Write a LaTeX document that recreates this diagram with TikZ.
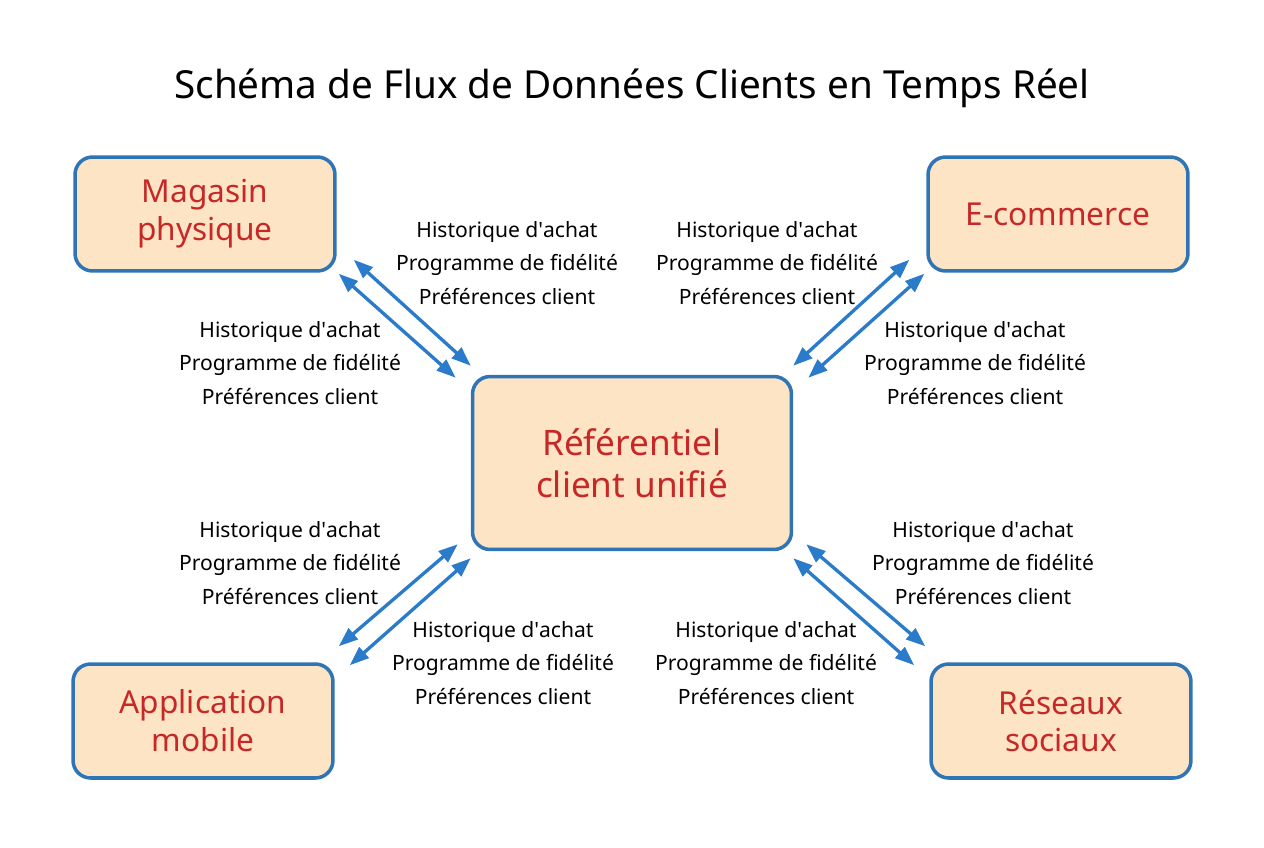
\documentclass[tikz,border=0pt]{standalone}
\usepackage{fontspec}
\setmainfont{Noto Sans}
\usetikzlibrary{arrows.meta}
\definecolor{boxfill}{HTML}{FCE4C4}
\definecolor{boxline}{HTML}{2F74B5}
\definecolor{boxtext}{HTML}{C62828}
\definecolor{flowblue}{HTML}{2B7BCB}

\begin{document}
\begin{tikzpicture}[x=0.02cm,y=-0.02cm,
  src/.style={draw=boxline, line width=2pt, fill=boxfill, rounded corners=10pt,
    minimum width=5.2cm, minimum height=2.28cm, text=boxtext, align=center,
    font=\fontsize{18}{21.5}\selectfont},
  hub/.style={src, minimum width=6.38cm, minimum height=3.46cm, font=\fontsize{20}{24}\selectfont},
  lbl/.style={align=center, font=\fontsize{12}{19}\selectfont},
  flow/.style={draw=flowblue, line width=1.9pt,
    {Triangle[length=11pt,width=8pt]}-{Triangle[length=11pt,width=8pt]}}]
  \useasboundingbox (0,0) rectangle (1264,848);
  \node[font=\fontsize{22}{26}\selectfont] (title) at (632,88) {Schéma de Flux de Données Clients en Temps Réel};
  \node[hub] (ref) at (632,463) {Référentiel\\client unifié};
  \node[src] (mag) at (205,214) {Magasin\\physique};
  \node[src] (ecom) at (1058,214) {E-commerce};
  \node[src] (app) at (203,721) {Application\\mobile};
  \node[src] (res) at (1061,721) {Réseaux\\sociaux};
  \foreach \n/\x/\y in {tla/507/263, tlb/290/363, tra/767/263, trb/975/363,
                        bla/290/563, blb/503/663, bra/983/563, brb/766/663}
    \node[lbl] (\n) at (\x,\y) {Historique d\textquotesingle achat\\Programme de fidélité\\Préférences client};
  % two flows per source
  \draw[flow] ([shift={(17,-13)}]mag.south east) -- ([shift={(0,-9)}]ref.north west);
  \draw[flow] ([shift={(2,1)}]mag.south east) -- ([shift={(-15,3)}]ref.north west);
  \draw[flow] ([shift={(-17,-13)}]ecom.south west) -- ([shift={(0,-9)}]ref.north east);
  \draw[flow] ([shift={(-2,1)}]ecom.south west) -- ([shift={(15,3)}]ref.north east);
  \draw[flow] ([shift={(4,-16)}]app.north east) -- ([shift={(-13,-7)}]ref.south west);
  \draw[flow] ([shift={(15,3)}]app.north east) -- ([shift={(0,7)}]ref.south west);
  \draw[flow] ([shift={(-4,-16)}]res.north west) -- ([shift={(13,-7)}]ref.south east);
  \draw[flow] ([shift={(-15,3)}]res.north west) -- ([shift={(0,7)}]ref.south east);
\end{tikzpicture}
\end{document}
